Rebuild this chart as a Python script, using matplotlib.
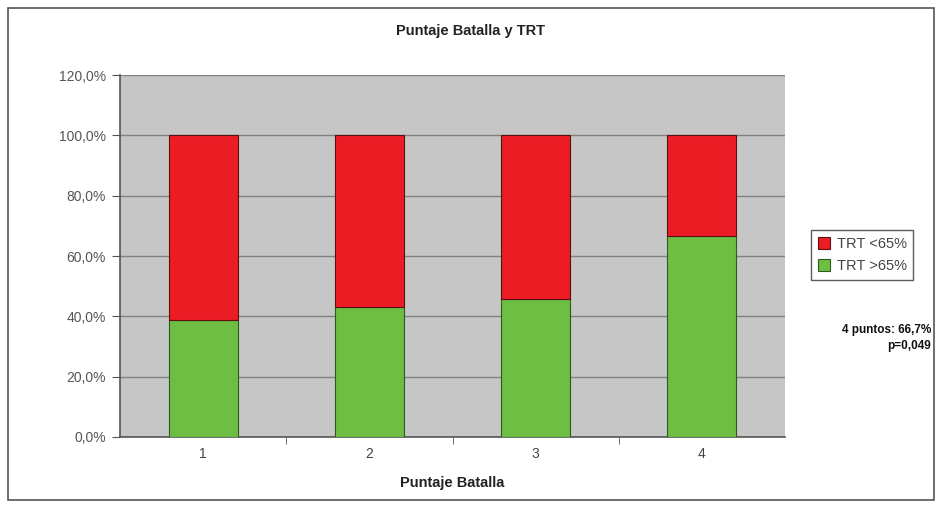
import matplotlib.pyplot as plt
from matplotlib.patches import Rectangle
from matplotlib.ticker import FuncFormatter, FixedLocator

plt.rcParams["font.family"] = ["Liberation Sans", "DejaVu Sans"]

# ── Data ───────────────────────────────────────────────────────────────────────
categories = ["1", "2", "3", "4"]
trt_high = [38.8, 43.1, 45.7, 66.7]   # TRT >65%
trt_low = [100 - v for v in trt_high]  # TRT <65%
y_ticks = [0, 20, 40, 60, 80, 100, 120]

RED = "#ec1c24"
GREEN = "#6fbe44"

# ── Plot ───────────────────────────────────────────────────────────────────────
fig = plt.figure(figsize=(9.4, 5.08), dpi=100)
fig.patch.set_facecolor("white")
ax = fig.add_axes([120 / 940, 1 - 437 / 508, 665 / 940, 362 / 508])
ax.set_facecolor("#c6c6c6")

x = list(range(len(categories)))
ax.bar(x, trt_high, width=0.415, color=GREEN, edgecolor="#2f5a1e", linewidth=0.8,
       label="TRT >65%", zorder=3)
ax.bar(x, trt_low, bottom=trt_high, width=0.415, color=RED, edgecolor="#5a1010",
       linewidth=0.8, label="TRT <65%", zorder=3)

ax.set_xlim(-0.5, len(categories) - 0.5)
ax.set_ylim(0, 120)
ax.yaxis.set_major_locator(FixedLocator(y_ticks))
ax.yaxis.set_major_formatter(FuncFormatter(lambda v, _: f"{v:.1f}%".replace(".", ",")))
ax.grid(axis="y", color="#808080", linewidth=1.0, zorder=1)

ax.set_xticks(x)
ax.set_xticklabels(categories)
ax.set_xticks([i + 0.5 for i in x[:-1]], minor=True)
ax.tick_params(axis="x", which="major", length=0, pad=7, labelsize=10, labelcolor="#444444")
ax.tick_params(axis="x", which="minor", length=5, color="#555555")
ax.tick_params(axis="y", length=6, color="#555555", labelsize=10, labelcolor="#555555", pad=4)

for side in ["top", "right"]:
    ax.spines[side].set_visible(False)
ax.spines["left"].set_color("#555555")
ax.spines["bottom"].set_color("#555555")
ax.spines["left"].set_linewidth(1.2)
ax.spines["bottom"].set_linewidth(1.2)

ax.set_xlabel("Puntaje Batalla", fontsize=10.5, fontweight="bold", color="#222222", labelpad=11)
fig.text(0.5, 1 - 31 / 508, "Puntaje Batalla y TRT", ha="center", va="center",
         fontsize=10.5, fontweight="bold", color="#222222")

handles, labels = ax.get_legend_handles_labels()
fig.legend(handles[::-1], labels[::-1], loc="center left",
           bbox_to_anchor=(804 / 940, 1 - 255 / 508), frameon=True, fancybox=False,
           edgecolor="#333333", fontsize=10.5, handlelength=0.8, handleheight=0.8,
           handletextpad=0.5, borderpad=0.45, labelspacing=0.55, labelcolor="#444444")

fig.text(931 / 940, 1 - 338 / 508, "4 puntos: 66,7%\np=0,049", ha="right", va="center",
         fontsize=8.5, fontweight="bold", color="#111111", linespacing=1.45)

# outer chart frame
fig.patches.append(Rectangle((8 / 940, 8 / 508), 926 / 940, 492 / 508, transform=fig.transFigure,
                             fill=False, edgecolor="#555555", linewidth=1.2))

fig.savefig("out.png", dpi=100, facecolor="white")
plt.close()
